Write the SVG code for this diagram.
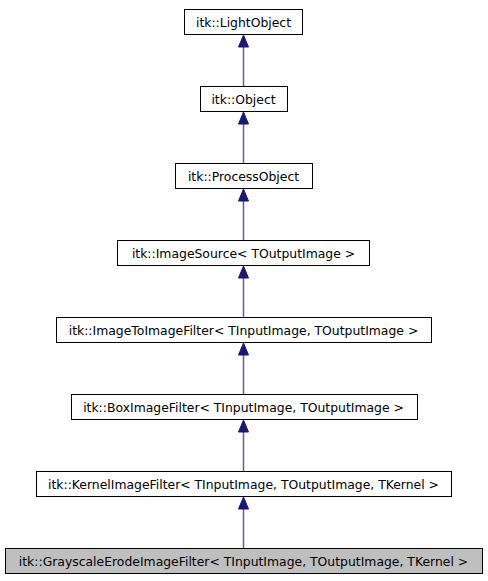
<svg xmlns="http://www.w3.org/2000/svg" width="488" height="581" viewBox="0 0 488 581">
<defs>
<style>
.n rect{fill:#ffffff;stroke:#000000;stroke-width:1}
.n.cur rect{fill:#bfbfbf}
.n text{font-family:"DejaVu Sans",sans-serif;font-size:12.4px;text-anchor:middle;fill:#000000}
.e line{stroke:#5b5ea6;stroke-width:1.5}
.e polygon{fill:#191970;stroke:#191970;stroke-width:1}
</style>
</defs>
<rect width="488" height="581" fill="#ffffff"/>
<g id="connectors" class="e">
<line x1="243.5" y1="86" x2="243.5" y2="47"/><polygon points="243.5,35 238.5,47 248.5,47"/>
<line x1="243.5" y1="163" x2="243.5" y2="124"/><polygon points="243.5,112 238.5,124 248.5,124"/>
<line x1="243.5" y1="240" x2="243.5" y2="201"/><polygon points="243.5,189 238.5,201 248.5,201"/>
<line x1="243.5" y1="317" x2="243.5" y2="278"/><polygon points="243.5,266 238.5,278 248.5,278"/>
<line x1="243.5" y1="394" x2="243.5" y2="355"/><polygon points="243.5,343 238.5,355 248.5,355"/>
<line x1="243.5" y1="471" x2="243.5" y2="432"/><polygon points="243.5,420 238.5,432 248.5,432"/>
<line x1="243.5" y1="548" x2="243.5" y2="509"/><polygon points="243.5,497 238.5,509 248.5,509"/>
</g>
<g id="node-lightobject" class="n"><rect x="184.5" y="9.5" width="118" height="25"/><text x="243.5" y="26.5">itk::LightObject</text></g>
<g id="node-object" class="n"><rect x="200.5" y="86.5" width="87" height="25"/><text x="243.5" y="103.5">itk::Object</text></g>
<g id="node-processobject" class="n"><rect x="175.5" y="163.5" width="137" height="25"/><text x="243.5" y="180.5">itk::ProcessObject</text></g>
<g id="node-imagesource" class="n"><rect x="117.5" y="240.5" width="252" height="25"/><text x="243.5" y="257.5">itk::ImageSource&lt; TOutputImage &gt;</text></g>
<g id="node-imagetoimagefilter" class="n"><rect x="56.5" y="317.5" width="375" height="25"/><text x="243.5" y="334.5">itk::ImageToImageFilter&lt; TInputImage, TOutputImage &gt;</text></g>
<g id="node-boximagefilter" class="n"><rect x="71.5" y="394.5" width="346" height="25"/><text x="243.5" y="411.5">itk::BoxImageFilter&lt; TInputImage, TOutputImage &gt;</text></g>
<g id="node-kernelimagefilter" class="n"><rect x="36.5" y="471.5" width="415" height="25"/><text x="243.5" y="488.5">itk::KernelImageFilter&lt; TInputImage, TOutputImage, TKernel &gt;</text></g>
<g id="node-grayscaleerode" class="n cur"><rect x="5.5" y="548.5" width="477" height="25"/><text x="243.5" y="565.5">itk::GrayscaleErodeImageFilter&lt; TInputImage, TOutputImage, TKernel &gt;</text></g>
</svg>
